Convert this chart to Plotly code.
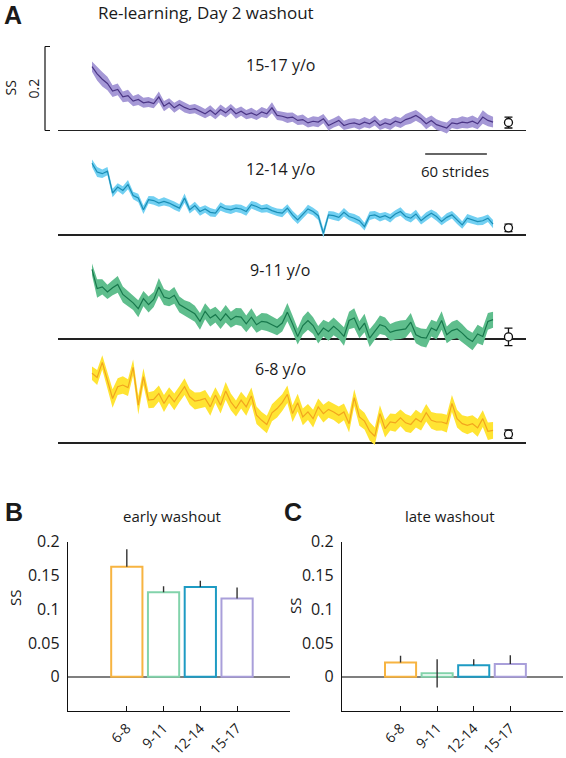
import plotly.graph_objects as go

# ---------------- data ----------------
strides = list(range(0, 395, 5))  # bin start (strides), 79 bins

ss_15_17 = [0.152, 0.135, 0.122, 0.112, 0.094, 0.098, 0.080, 0.083, 0.070, 0.074,
            0.066, 0.068, 0.064, 0.080, 0.058, 0.066, 0.054, 0.062, 0.055, 0.050,
            0.052, 0.046, 0.040, 0.048, 0.038, 0.050, 0.042, 0.052, 0.040, 0.046,
            0.038, 0.042, 0.036, 0.044, 0.040, 0.054, 0.036, 0.034, 0.030, 0.032,
            0.024, 0.026, 0.018, 0.022, 0.020, 0.028, 0.012, 0.018, 0.024, 0.012,
            0.016, 0.018, 0.014, 0.020, 0.016, 0.024, 0.012, 0.018, 0.014, 0.022,
            0.018, 0.026, 0.030, 0.036, 0.028, 0.016, 0.024, 0.014, 0.010, 0.006,
            0.018, 0.016, 0.020, 0.018, 0.022, 0.016, 0.032, 0.024, 0.020]
se_15_17 = [0.012, 0.016, 0.017, 0.016, 0.014, 0.014, 0.013, 0.014, 0.012, 0.013,
            0.012, 0.012, 0.011, 0.013, 0.012, 0.011, 0.012, 0.011, 0.012, 0.011,
            0.011, 0.012, 0.011, 0.012, 0.011, 0.012, 0.011, 0.011, 0.012, 0.011,
            0.011, 0.012, 0.011, 0.012, 0.011, 0.013, 0.011, 0.011, 0.012, 0.011,
            0.011, 0.012, 0.011, 0.012, 0.012, 0.011, 0.012, 0.011, 0.012, 0.011,
            0.012, 0.011, 0.012, 0.012, 0.011, 0.012, 0.011, 0.012, 0.013, 0.012,
            0.012, 0.013, 0.014, 0.013, 0.012, 0.013, 0.012, 0.013, 0.012, 0.013,
            0.012, 0.013, 0.014, 0.013, 0.014, 0.013, 0.016, 0.014, 0.013]

ss_12_14 = [0.171, 0.150, 0.146, 0.152, 0.100, 0.114, 0.106, 0.120, 0.094, 0.088,
            0.060, 0.084, 0.082, 0.076, 0.080, 0.076, 0.070, 0.064, 0.088, 0.060,
            0.070, 0.056, 0.062, 0.054, 0.052, 0.068, 0.062, 0.060, 0.064, 0.062,
            0.056, 0.072, 0.068, 0.062, 0.064, 0.058, 0.054, 0.052, 0.064, 0.048,
            0.036, 0.048, 0.062, 0.056, 0.046, 0.004, 0.048, 0.046, 0.042, 0.054,
            0.044, 0.040, 0.034, 0.020, 0.046, 0.048, 0.042, 0.046, 0.040, 0.050,
            0.056, 0.044, 0.040, 0.050, 0.034, 0.044, 0.052, 0.044, 0.032, 0.042,
            0.048, 0.036, 0.024, 0.040, 0.036, 0.032, 0.034, 0.040, 0.026]
se_12_14 = [0.009, 0.012, 0.010, 0.010, 0.010, 0.009, 0.010, 0.011, 0.009, 0.010,
            0.010, 0.009, 0.010, 0.009, 0.010, 0.009, 0.010, 0.009, 0.011, 0.009,
            0.009, 0.010, 0.009, 0.010, 0.009, 0.010, 0.009, 0.010, 0.009, 0.010,
            0.010, 0.009, 0.010, 0.009, 0.010, 0.009, 0.009, 0.010, 0.009, 0.010,
            0.010, 0.009, 0.010, 0.009, 0.010, 0.010, 0.009, 0.010, 0.009, 0.010,
            0.009, 0.010, 0.010, 0.009, 0.010, 0.009, 0.010, 0.009, 0.010, 0.009,
            0.010, 0.009, 0.010, 0.010, 0.009, 0.010, 0.009, 0.010, 0.009, 0.010,
            0.009, 0.010, 0.009, 0.010, 0.010, 0.009, 0.010, 0.009, 0.010]

ss_9_11 = [0.166, 0.120, 0.124, 0.112, 0.122, 0.130, 0.106, 0.096, 0.086, 0.072,
           0.096, 0.082, 0.094, 0.124, 0.100, 0.096, 0.104, 0.082, 0.074, 0.068,
           0.060, 0.042, 0.066, 0.050, 0.058, 0.044, 0.060, 0.046, 0.054, 0.052,
           0.036, 0.052, 0.034, 0.042, 0.040, 0.034, 0.028, 0.038, 0.064, 0.036,
           0.006, 0.032, 0.044, 0.032, 0.010, 0.026, 0.018, 0.030, 0.020, 0.006,
           0.044, 0.050, 0.022, 0.038, 0.002, 0.018, 0.034, 0.030, 0.016, 0.020,
           0.022, 0.024, 0.040, 0.010, 0.004, 0.002, 0.026, 0.020, 0.044, 0.010,
           0.020, 0.024, 0.014, 0.002, -0.006, 0.012, 0.006, 0.042, 0.046]
se_9_11 = [0.014, 0.022, 0.018, 0.017, 0.018, 0.020, 0.019, 0.018, 0.017, 0.020,
           0.018, 0.019, 0.018, 0.021, 0.019, 0.018, 0.020, 0.019, 0.018, 0.020,
           0.019, 0.020, 0.019, 0.020, 0.019, 0.020, 0.021, 0.019, 0.020, 0.021,
           0.020, 0.021, 0.019, 0.020, 0.021, 0.020, 0.019, 0.020, 0.022, 0.020,
           0.019, 0.021, 0.022, 0.020, 0.021, 0.020, 0.022, 0.021, 0.020, 0.022,
           0.021, 0.023, 0.020, 0.022, 0.021, 0.020, 0.022, 0.021, 0.020, 0.021,
           0.022, 0.021, 0.022, 0.020, 0.021, 0.022, 0.020, 0.021, 0.022, 0.020,
           0.021, 0.022, 0.021, 0.020, 0.021, 0.022, 0.021, 0.020, 0.019]

ss_6_8 = [0.166, 0.156, 0.192, 0.150, 0.106, 0.134, 0.138, 0.132, 0.180, 0.090,
          0.158, 0.102, 0.104, 0.118, 0.094, 0.114, 0.098, 0.116, 0.134, 0.110,
          0.100, 0.102, 0.106, 0.086, 0.114, 0.090, 0.124, 0.098, 0.082, 0.102,
          0.086, 0.112, 0.066, 0.054, 0.044, 0.072, 0.082, 0.096, 0.116, 0.070,
          0.096, 0.062, 0.074, 0.058, 0.086, 0.070, 0.080, 0.074, 0.066, 0.074,
          0.046, 0.108, 0.062, 0.052, 0.028, 0.016, 0.070, 0.034, 0.050, 0.048,
          0.060, 0.048, 0.044, 0.058, 0.050, 0.072, 0.054, 0.050, 0.050, 0.046,
          0.094, 0.058, 0.046, 0.042, 0.046, 0.036, 0.058, 0.028, 0.030]
se_6_8 = [0.016, 0.018, 0.017, 0.020, 0.022, 0.020, 0.021, 0.020, 0.019, 0.022,
          0.020, 0.019, 0.020, 0.019, 0.020, 0.019, 0.020, 0.019, 0.020, 0.019,
          0.020, 0.019, 0.020, 0.021, 0.019, 0.020, 0.021, 0.020, 0.019, 0.020,
          0.021, 0.020, 0.021, 0.020, 0.021, 0.020, 0.021, 0.020, 0.021, 0.020,
          0.021, 0.020, 0.019, 0.021, 0.020, 0.021, 0.020, 0.019, 0.021, 0.020,
          0.021, 0.020, 0.021, 0.020, 0.022, 0.021, 0.020, 0.021, 0.020, 0.021,
          0.020, 0.021, 0.020, 0.021, 0.020, 0.021, 0.020, 0.021, 0.020, 0.021,
          0.020, 0.021, 0.020, 0.021, 0.020, 0.021, 0.020, 0.021, 0.020]

groups = ["6-8", "9-11", "12-14", "15-17"]
early_ss = [0.163, 0.125, 0.133, 0.116]
early_err = [0.026, 0.009, 0.009, 0.016]
late_ss = [0.021, 0.005, 0.017, 0.019]
late_err = [0.010, 0.021, 0.009, 0.013]
late_stride = 405  # where the late-washout summary marker is drawn in panel A

# ---------------- styling ----------------
W, H = 566, 758
FONT = "Open Sans"


def fx(px):
    return px / W


def fy(py):
    return 1 - py / H


line_cols = {"6-8": "#F2A51E", "9-11": "#17784C", "12-14": "#1B8EB6", "15-17": "#4A3585"}
band_cols = {"6-8": "#FFE433", "9-11": "#5FBE8D", "12-14": "#72D0F2", "15-17": "#A598D6"}
bar_cols = ["#F7B441", "#82D3AB", "#1E9BC3", "#A99FDA"]

SCALE = 420.0  # px per SS unit in panel A
baselines = {"15-17": 130.5, "12-14": 235.0, "9-11": 339.0, "6-8": 443.0}
label_y = {"15-17": 65, "12-14": 169, "9-11": 270, "6-8": 369}
yaxis_of = {"15-17": "y", "12-14": "y2", "9-11": "y3", "6-8": "y4"}
series = {"15-17": (ss_15_17, se_15_17), "12-14": (ss_12_14, se_12_14),
          "9-11": (ss_9_11, se_9_11), "6-8": (ss_6_8, se_6_8)}

fig = go.Figure()

for g in ["15-17", "12-14", "9-11", "6-8"]:
    m, s = series[g]
    ya = yaxis_of[g]
    upper = [a + b for a, b in zip(m, s)]
    lower = [a - b for a, b in zip(m, s)]
    fig.add_trace(go.Scatter(x=strides, y=upper, xaxis="x", yaxis=ya, mode="lines",
                             line=dict(width=0, color=band_cols[g]), showlegend=False,
                             hoverinfo="skip"))
    fig.add_trace(go.Scatter(x=strides, y=lower, xaxis="x", yaxis=ya, mode="lines",
                             line=dict(width=0, color=band_cols[g]), fill="tonexty",
                             fillcolor=band_cols[g], showlegend=False, hoverinfo="skip"))
    fig.add_trace(go.Scatter(x=strides, y=m, xaxis="x", yaxis=ya, mode="lines",
                             line=dict(width=1.2, color=line_cols[g]), showlegend=False))
    gi = groups.index(g)
    fig.add_trace(go.Scatter(x=[late_stride], y=[late_ss[gi]], xaxis="x", yaxis=ya,
                             mode="markers",
                             marker=dict(symbol="circle", size=8, color="white",
                                         line=dict(color="#111", width=1.3)),
                             error_y=dict(type="data", array=[late_err[gi]], color="#111",
                                          thickness=1.3, width=4),
                             showlegend=False))

# bar panels
for xa, ya, vals, errs in [("x2", "y5", early_ss, early_err), ("x3", "y6", late_ss, late_err)]:
    minus = [e if v < e else 0 for v, e in zip(vals, errs)]
    fig.add_trace(go.Bar(x=[1, 2, 3, 4], y=vals, xaxis=xa, yaxis=ya, width=0.85,
                         marker=dict(color="white", line=dict(color=bar_cols, width=2)),
                         error_y=dict(type="data", array=errs, arrayminus=minus,
                                      symmetric=False, color="#333", thickness=1.4, width=0),
                         showlegend=False))

# ---------------- axes ----------------
px_per_stride = 61.7 / 60.0
x0_px = 92.0
layout_axes = {}
layout_axes["xaxis"] = dict(domain=[fx(58), fx(526)], anchor="y", visible=False,
                            range=[(58 - x0_px) / px_per_stride, (526 - x0_px) / px_per_stride],
                            showgrid=False, zeroline=False, automargin=False)
yrange = [-14 / SCALE, 90 / SCALE]
for g, key in [("15-17", "yaxis"), ("12-14", "yaxis2"), ("9-11", "yaxis3"), ("6-8", "yaxis4")]:
    b = baselines[g]
    layout_axes[key] = dict(domain=[fy(b + 14), fy(b - 90)], anchor="x", range=yrange,
                            showgrid=False, showticklabels=False, ticks="",
                            zeroline=True, zerolinecolor="#222", zerolinewidth=1.2,
                            showline=False, automargin=False)

bar_y_dom = [fy(710.5), fy(541.7)]
for xk, yk, xd, yname in [("xaxis2", "yaxis5", [fx(68), fx(290)], "y5"),
                          ("xaxis3", "yaxis6", [fx(342), fx(563)], "y6")]:
    layout_axes[xk] = dict(domain=xd, anchor=yname, range=[-0.6, 5.44],
                           tickvals=[1, 2, 3, 4], ticktext=groups, tickangle=-45,
                           ticks="inside", ticklen=5, tickcolor="#111",
                           showline=True, linecolor="#111", linewidth=1.2,
                           showgrid=False, zeroline=False, ticklabelstandoff=3,
                           automargin=False,
                           tickfont=dict(size=14, family=FONT, color="#1a1a1a"))
    layout_axes[yk] = dict(domain=bar_y_dom, anchor=xk.replace("axis", ""),
                           range=[-0.05, 0.2], tickvals=[0, 0.05, 0.1, 0.15, 0.2],
                           ticktext=["0", "0.05", "0.1", "0.15", "0.2"],
                           ticks="", showline=True, linecolor="#111", linewidth=1.2,
                           showgrid=False, zeroline=True, zerolinecolor="#7f7f7f",
                           zerolinewidth=2.2, ticklabelstandoff=4, automargin=False,
                           tickfont=dict(size=16, family=FONT, color="#1a1a1a"))

# ---------------- shapes ----------------
shapes = [
    # scale bracket for SS in panel A (0 to 0.2)
    dict(type="line", xref="paper", yref="y", x0=fx(45), x1=fx(45), y0=0, y1=0.2,
         line=dict(color="#111", width=1.2)),
    dict(type="line", xref="paper", yref="y", x0=fx(45), x1=fx(50), y0=0.2, y1=0.2,
         line=dict(color="#111", width=1.2)),
    dict(type="line", xref="paper", yref="y", x0=fx(45), x1=fx(50), y0=0, y1=0,
         line=dict(color="#111", width=1.2)),
    # 60 strides scale bar
    dict(type="line", xref="x", yref="paper", x0=324, x1=384, y0=fy(154), y1=fy(154),
         line=dict(color="#333", width=1.6)),
]

# ---------------- annotations ----------------
ann = []


def text(x, y, s, size=15, angle=0, xanchor="center", yref="paper", family=FONT):
    ann.append(dict(x=x, y=y, xref="paper", yref=yref, text=s, showarrow=False,
                    textangle=angle, xanchor=xanchor, yanchor="middle",
                    font=dict(size=size, family=family, color="#1a1a1a")))


text(fx(13), fy(15), "<b>A</b>", size=25, family="Liberation Sans")
text(fx(96), fy(13), "Re-learning, Day 2 washout", size=17, xanchor="left")
text(fx(10), 0.1, "SS", size=14, angle=-90, yref="y")
text(fx(33), 0.1, "0.2", size=14, angle=-90, yref="y")
for g in ["15-17", "12-14", "9-11", "6-8"]:
    text(fx(280), fy(label_y[g]), g + " y/o", size=16)
text(fx(455), fy(171), "60 strides", size=15)

text(fx(14), fy(512), "<b>B</b>", size=25, family="Liberation Sans")
text(fx(172), fy(516), "early washout", size=15)
text(fx(15), fy(598), "SS", size=15, angle=-90)
text(fx(293), fy(512), "<b>C</b>", size=25, family="Liberation Sans")
text(fx(450), fy(516), "late washout", size=15)
text(fx(295), fy(606), "SS", size=15, angle=-90)

fig.update_layout(width=W, height=H,
                  margin=dict(l=0, r=0, t=0, b=0, pad=0, autoexpand=False),
                  paper_bgcolor="white", plot_bgcolor="white",
                  font=dict(family=FONT, color="#1a1a1a"),
                  shapes=shapes, annotations=ann, showlegend=False, **layout_axes)

fig.write_html("out.html",
               config={"displayModeBar": False, "staticPlot": True},
               post_script="document.body.style.margin='0px';"
                           "document.body.style.overflow='hidden';")
